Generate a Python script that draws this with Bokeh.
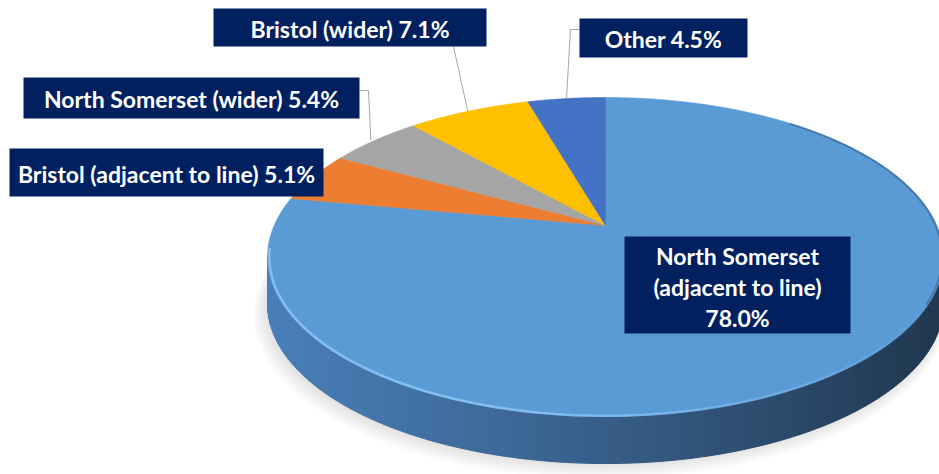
import numpy as np
from bokeh.plotting import figure
from bokeh.models import Range1d
from bokeh.embed import file_html
from bokeh.resources import INLINE
from bokeh.core.properties import value

# ---------------- data ----------------
categories = ["North Somerset (adjacent to line)", "Bristol (adjacent to line)",
              "North Somerset (wider)", "Bristol (wider)", "Other"]
shares = [78.0, 5.1, 5.4, 7.1, 4.5]
colors = ["#5b9bd5", "#ed7d31", "#a5a5a5", "#ffc000", "#4472c4"]

# ---------------- projection of the tilted disc ----------------
X0, Y0 = 605.0, 225.0      # apex (pie centre) in page pixels
K = 0.1975                 # perspective strength
B = 153.3
A = 338.0 * np.sqrt(1 - K * K)
DROP = 47.0                # thickness of the pie


def proj(theta_deg, r=1.0, drop=0.0):
    t = np.radians(np.asarray(theta_deg, dtype=float))
    u = r * np.sin(t)
    v = r * np.cos(t)
    d = 1 + K * v
    return X0 + A * u / d, Y0 - B * v / d + drop


W, H = 939, 474
p = figure(width=W, height=H, x_range=Range1d(0, W), y_range=Range1d(H, 0),
           output_backend="svg", toolbar_location=None, min_border=0)
p.axis.visible = False
p.grid.visible = False
p.outline_line_color = None
p.background_fill_color = "white"
p.border_fill_color = "white"

total = sum(shares)
angles = [s / total * 360.0 for s in shares]
starts = np.concatenate([[0.0], np.cumsum(angles)[:-1]])

# ---------------- soft shadow ----------------
th_all = np.linspace(0, 360, 241)
for i in range(7):
    sx, sy = proj(th_all, r=1.0 + 0.004 * i, drop=DROP + 2 + 1.2 * i)
    p.patch(list(sx - 2 - i * 0.6), list(sy), fill_color="#808080", fill_alpha=0.035, line_color=None)

# ---------------- side (front band) with gradient ----------------
th1 = np.degrees(np.arccos(-K))          # right silhouette
th2 = 360.0 - th1                        # left silhouette
N = 180
ths = np.linspace(th1, th2, N + 1)
tx, ty = proj(ths)
bx, by = proj(ths, drop=DROP)
xmin, xmax = tx.min(), tx.max()
stops_t = [0.0, 0.45, 1.0]
stops_c = [(74, 128, 186), (58, 98, 142), (33, 56, 80)]
xs_side, ys_side, c_side = [], [], []
for i in range(N):
    xs_side.append([tx[i], tx[i + 1], bx[i + 1], bx[i]])
    ys_side.append([ty[i], ty[i + 1], by[i + 1], by[i]])
    t = ((tx[i] + tx[i + 1]) / 2 - xmin) / (xmax - xmin)
    rgb = [int(np.interp(t, stops_t, [c[j] for c in stops_c])) for j in range(3)]
    c_side.append("#%02x%02x%02x" % tuple(rgb))
p.patches(xs_side, ys_side, fill_color=c_side, line_color=c_side, line_width=1)

# ---------------- top face wedges ----------------
xs_top, ys_top = [], []
for st, ang in zip(starts, angles):
    n = max(3, int(ang * 2))
    th = np.linspace(st, st + ang, n)
    ax_, ay_ = proj(th)
    xs_top.append([X0] + list(ax_))
    ys_top.append([Y0] + list(ay_))
p.patches(xs_top, ys_top, fill_color=colors, line_color=colors, line_width=0.6)

# ---------------- rim highlight ----------------
hl = np.linspace(118, 262, 90)
hx, hy = proj(hl, r=0.995, drop=0.5)
segx, segy, segalpha = [], [], []
for i in range(len(hl) - 1):
    segx.append([hx[i], hx[i + 1]])
    segy.append([hy[i], hy[i + 1]])
    segalpha.append(float(np.clip((hl[i] - 118) / 90.0, 0.05, 0.85)))
p.multi_line(segx, segy, line_color="#8cc6f7", line_width=2.5, line_alpha=segalpha)

# darker bevel on the right edge of top face
rt = np.linspace(40, 118, 50)
rx, ry = proj(rt, r=0.996)
p.line(rx, ry, line_color="#2f5a86", line_width=2, line_alpha=0.5)

# ---------------- leader lines ----------------
mids = [st + ang / 2 for st, ang in zip(starts, angles)]
lead_col = "#a6a6a6"
# North Somerset (wider)
mx, my = proj(mids[2])
p.line([359, 368, float(mx) - 4], [90, 90, float(my)], line_color=lead_col, line_width=1)
# Bristol (wider)
mx, my = proj(mids[3])
p.line([453, float(mx) - 1], [46, float(my)], line_color=lead_col, line_width=1)
# Other
mx, my = proj(mids[4])
p.line([579, 570, float(mx)], [29, 29, float(my)], line_color=lead_col, line_width=1)

# ---------------- labels ----------------
navy = "#002060"
FONT = value("Lato")
FS = "23px"
boxes = {  # left, right, top, bottom (page px)
    1: (9, 323, 148, 196),
    2: (23, 359, 77, 118),
    3: (213, 486, 8, 46),
    4: (579, 747, 18, 57),
    0: (624, 850, 236, 333),
}
for idx, (l, r, t, b) in boxes.items():
    p.quad(left=l, right=r, top=t, bottom=b, fill_color=navy, line_color=None)

for idx in [1, 2, 3, 4]:
    l, r, t, b = boxes[idx]
    p.text(x=[(l + r) / 2], y=[(t + b) / 2 + 1], text=[f"{categories[idx]} {shares[idx]:.1f}%"],
           text_color="white", text_font=FONT, text_font_style="bold", text_font_size=FS,
           text_align="center", text_baseline="middle")

l, r, t, b = boxes[0]
lines0 = ["North Somerset", "(adjacent to line)", f"{shares[0]:.1f}%"]
p.text(x=[(l + r) / 2] * 3, y=[255, 286, 317], text=lines0,
       text_color="white", text_font=FONT, text_font_style="bold", text_font_size=FS,
       text_align="center", text_baseline="middle")

open("out.html", "w").write(file_html(p, INLINE))
